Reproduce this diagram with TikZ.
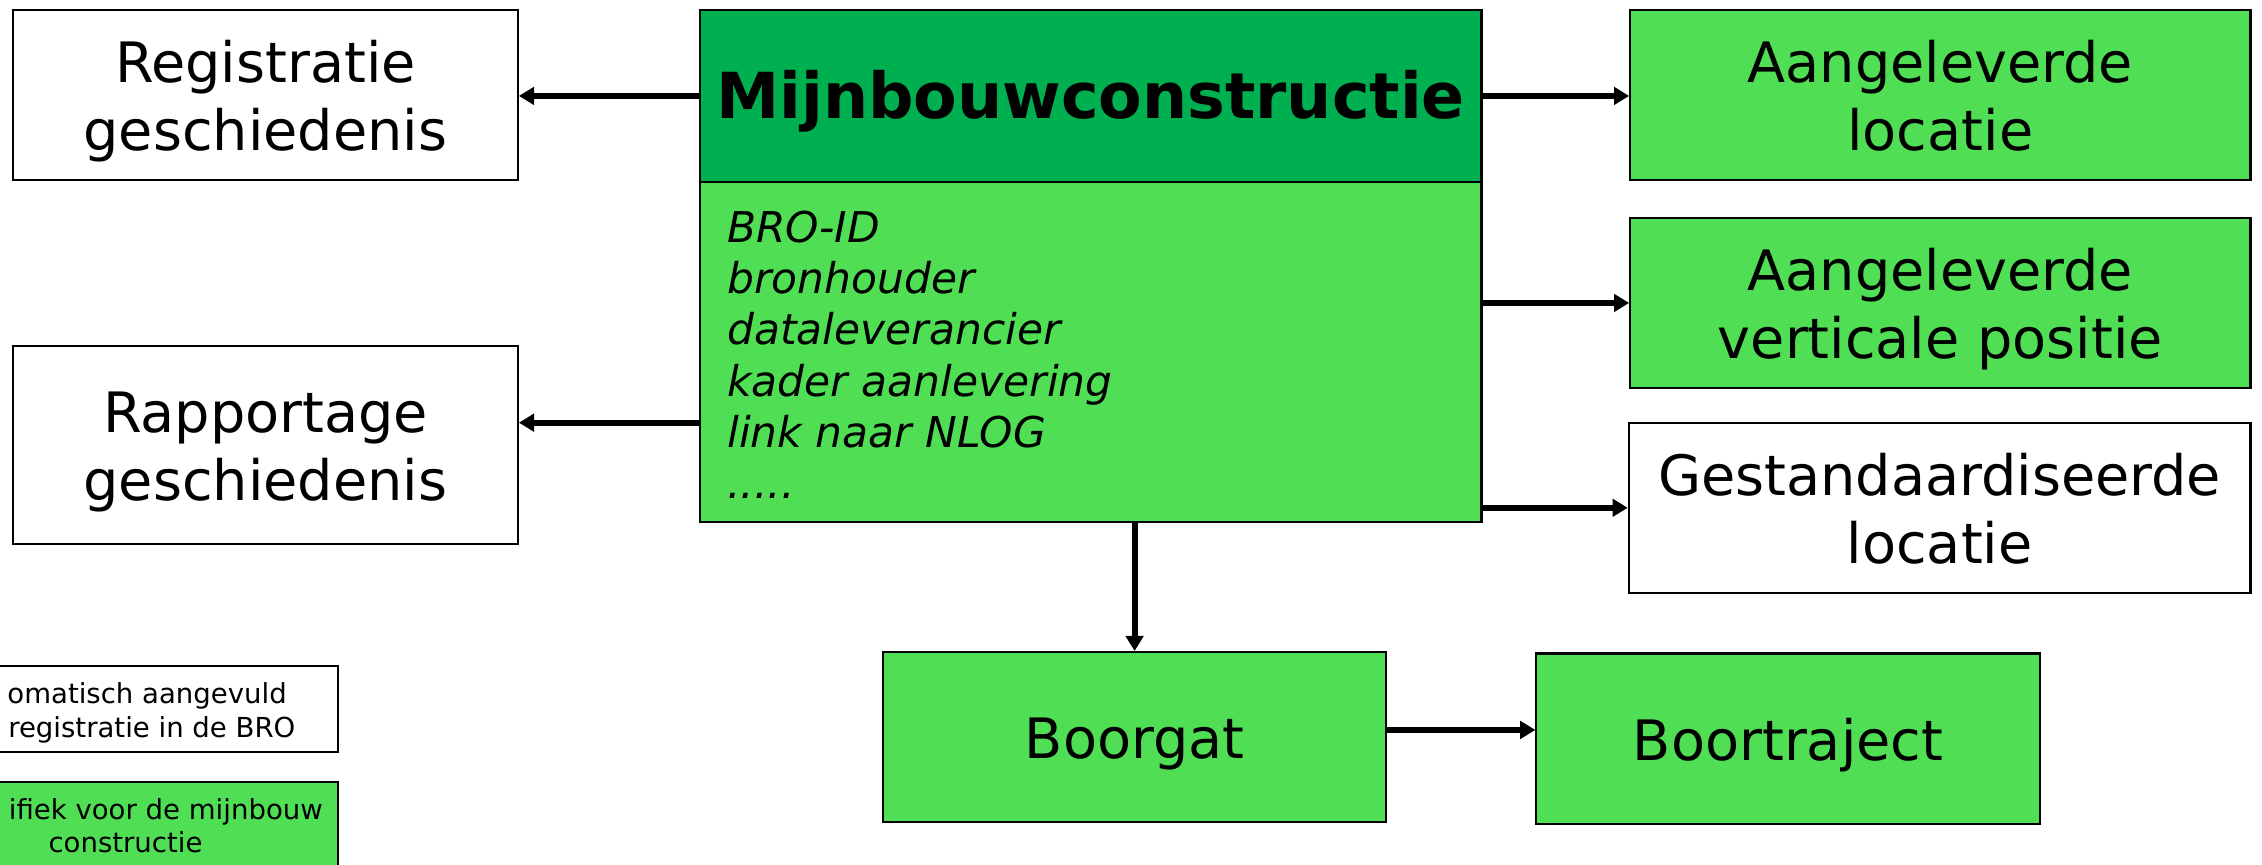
\documentclass[tikz,border=0pt]{standalone}
\usepackage{fontspec}
\setmainfont{DejaVu Sans}
\usetikzlibrary{arrows.meta}
\definecolor{darkg}{RGB}{0,176,80}
\definecolor{lightg}{RGB}{80,223,84}
\newcommand\mytopstrut{\rule{0pt}{39pt}}
\newcommand\mybotstrut{\rule[-9pt]{0pt}{9pt}}
\tikzset{
  box/.style={draw=black, line width=1.4pt, align=center, inner sep=0pt,
    font=\fontsize{38.6}{47}\selectfont},
  gbox/.style={box, fill=lightg},
  wbox/.style={box, fill=white},
  legtext/.style={inner sep=0pt, font=\fontsize{19.1}{23}\selectfont},
  arr/.style={line width=4pt, -{Triangle[length=10.5pt,width=12pt]}},
}
\begin{document}
\begin{tikzpicture}[x=1pt,y=-1pt]
\useasboundingbox (0,0) rectangle (1568,599);
% left boxes
\node[wbox, minimum width=350pt, minimum height=118pt] (reg) at (184,66) {\mytopstrut Registratie\\geschiedenis\mybotstrut};
\node[wbox, minimum width=350pt, minimum height=137pt] (rap) at (184,308.5) {\mytopstrut Rapportage\\geschiedenis\mybotstrut};
% main class
\node[draw=black, line width=1.6pt, fill=darkg, minimum width=542pt, minimum height=119pt, inner sep=0pt,
  font=\fontsize{44}{52}\selectfont\bfseries] (head) at (756,66.5) {\raisebox{-4pt}[\height][\depth]{Mijnbouwconstructie}};
\node[draw=black, line width=1.6pt, fill=lightg, minimum width=542pt, minimum height=236pt, inner sep=0pt] (body) at (756,244) {};
\node[anchor=north west, inner sep=0pt, align=left, font=\fontsize{29.4}{35.5}\selectfont\itshape] (attrs) at (504,146)
  {BRO-ID\\bronhouder\\dataleverancier\\kader aanlevering\\link naar NLOG\\.....};
% right boxes
\node[gbox, minimum width=430pt, minimum height=118pt] (al) at (1345,66) {\mytopstrut Aangeleverde\\locatie\mybotstrut};
\node[gbox, minimum width=430pt, minimum height=118pt] (avp) at (1345,210) {\mytopstrut Aangeleverde\\verticale positie\mybotstrut};
\node[wbox, minimum width=431pt, minimum height=118pt] (gl) at (1344.5,352) {\mytopstrut Gestandaardiseerde\\locatie\mybotstrut};
% bottom boxes
\node[gbox, minimum width=349pt, minimum height=118pt] (bg) at (786.5,511) {\mytopstrut Boorgat\mybotstrut};
\node[gbox, minimum width=349pt, minimum height=118pt] (bt) at (1239.5,512) {\mytopstrut Boortraject\mybotstrut};
% legend
\node[draw=black, line width=1.4pt, fill=white, minimum width=244pt, minimum height=59pt, inner sep=0pt] (leg1) at (112,491.5) {};
\node[legtext, anchor=base east] (leg1a) at (199,488) {omatisch aangevuld};
\node[legtext, anchor=base east] (leg1b) at (205,511) {registratie in de BRO};
\node[draw=black, line width=1.4pt, fill=lightg, minimum width=244pt, minimum height=70pt, inner sep=0pt] (leg2) at (112,577) {};
\node[legtext, anchor=base east] (leg2a) at (224,568) {ifiek voor de mijnbouw};
\node[legtext, anchor=base] (leg2b) at (87,591) {constructie};
% connectors
\coordinate (c1) at ([yshift=-49pt]body.west);
\coordinate (c2) at ([yshift=5pt]bg.east);
\draw[arr] (head.west) -- (head.west -| reg.east);
\draw[arr] (c1) -- (c1 -| rap.east);
\draw[arr] (head.east) -- (head.east -| al.west);
\draw[arr] (avp.west -| body.east) -- (avp.west);
\draw[arr] (gl.west -| body.east) -- (gl.west);
\draw[arr] (bg.north |- body.south) -- (bg.north);
\draw[arr] (c2) -- (c2 -| bt.west);
\end{tikzpicture}
\end{document}
